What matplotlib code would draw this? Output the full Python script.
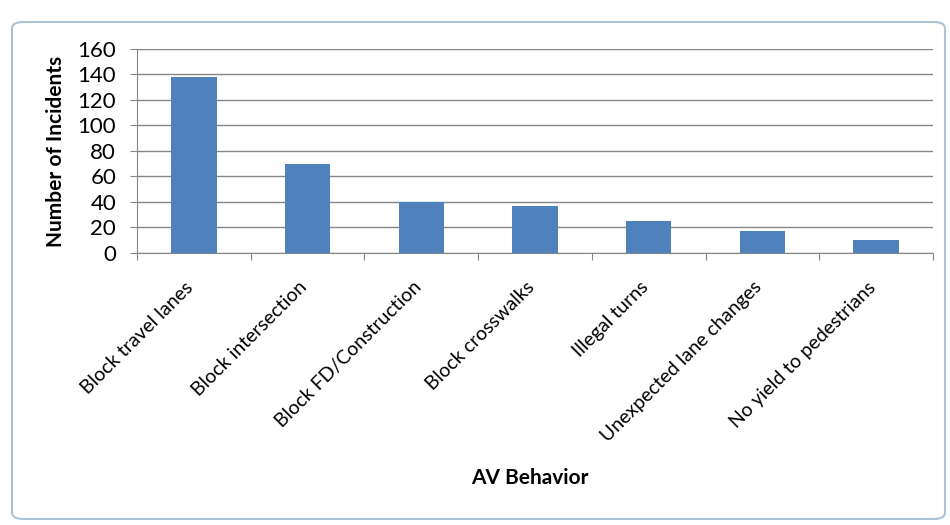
import matplotlib.pyplot as plt
from matplotlib.patches import FancyBboxPatch
import numpy as np

behaviors = ['Block travel lanes', 'Block intersection', 'Block FD/Construction',
             'Block crosswalks', 'Illegal turns', 'Unexpected lane changes',
             'No yield to pedestrians']
incidents = [138, 70, 40, 37, 25, 17, 10]
y_ticks = [0, 20, 40, 60, 80, 100, 120, 140, 160]

plt.rcParams['font.family'] = ['Lato', 'DejaVu Sans']

fig = plt.figure(figsize=(9.5, 5.25), dpi=100)

# chart frame (rounded, like the Excel chart object)
frame = FancyBboxPatch((12 / 950, 6 / 525), 933 / 950, 497 / 525,
                       boxstyle="round,pad=0,rounding_size=0.012",
                       transform=fig.transFigure, facecolor='white',
                       edgecolor='#a9c4d8', linewidth=1.5, zorder=-1)
fig.patches.append(frame)

ax = fig.add_axes([137 / 950, 1 - 253 / 525, (933 - 137) / 950, (253 - 49) / 525])
ax.set_zorder(2)
ax.patch.set_alpha(0)
x = np.arange(len(behaviors))
ax.bar(x, incidents, width=0.4, color='#4f81bd', zorder=3)

ax.set_ylim(0, 160)
ax.set_yticks(y_ticks)
ax.set_xlim(-0.5, len(behaviors) - 0.5)
ax.yaxis.grid(True, color='#868686', linewidth=1)
ax.set_axisbelow(True)
for s in ['top', 'right']:
    ax.spines[s].set_visible(False)
ax.spines['left'].set_color('#868686')
ax.spines['bottom'].set_color('#868686')

# ticks between categories on x
ax.set_xticks(np.arange(-0.5, len(behaviors), 1.0))
ax.set_xticklabels([])
ax.tick_params(axis='x', length=5, color='#868686')
ax.tick_params(axis='y', length=5, color='#868686', labelsize=16, pad=10)

for i, name in enumerate(behaviors):
    ax.text(i - 0.08, -20, name, rotation=45, ha='right', va='top',
            rotation_mode='anchor', fontsize=14)

ax.set_ylabel('Number of Incidents', fontsize=15, fontweight='bold', labelpad=8)
fig.text(530 / 950, 1 - 478 / 525, 'AV Behavior', ha='center', va='center',
         fontsize=15, fontweight='bold')

fig.savefig('out.png', dpi=100)
